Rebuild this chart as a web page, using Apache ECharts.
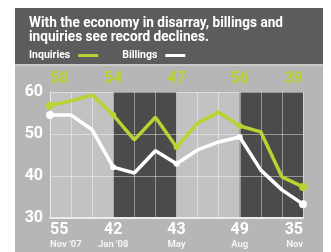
<!DOCTYPE html>
<html>
<head>
<meta charset="utf-8">
<script src="https://cdn.jsdelivr.net/npm/echarts@6/dist/echarts.min.js"></script>
<style>
html,body{margin:0;padding:0;background:#ffffff;}
#c{width:331px;height:252px;}
</style>
</head>
<body>
<div id="c"></div>
<script>
// ---- data ----
var categories = ["Nov '07","Dec '07","Jan '08","Feb '08","Mar '08","Apr '08","May '08","Jun '08","Jul '08","Aug '08","Sep '08","Oct '08","Nov '08"];
var inquiries = [56.8, 57.9, 59.3, 54.5, 48.6, 54.0, 46.9, 52.6, 55.2, 51.9, 50.5, 39.8, 37.4];
var billings  = [54.5, 54.5, 51.0, 42.1, 40.7, 46.0, 42.9, 46.2, 48.1, 49.3, 41.4, 36.7, 33.3];
var labelIdx = [0, 3, 6, 9, 12];
var monthLabels = ["Nov '07", "Jan '08", "May", "Aug", "Nov"];
var billingLabels = ["55", "42", "43", "49", "35"];
var inquiryLabels = ["58", "54", "47", "56", "39"];
var yTicks = [30, 40, 50, 60];
var darkBands = [[3, 6], [9, 12]];
var titleLines = ["With the economy in disarray, billings and", "inquiries see record declines."];
// ----------------

var NUM = "'Roboto','Liberation Sans',sans-serif";
var GREEN = '#b8d432';
var TITLE_FONT = "bold 14.5px Roboto, 'Liberation Sans', sans-serif";

// horizontal condensing of the title so its first line spans the reference width
var mctx = document.createElement('canvas').getContext('2d');
mctx.font = TITLE_FONT;
var titleScale = 254 / mctx.measureText(titleLines[0]).width;

function pos(i){ return labelIdx.indexOf(i); }

function bottomAxis(filter, align, show){
  return {
    type:'category', data:categories, boundaryGap:false, position:'bottom', gridIndex:0, z:2,
    axisLine:{show:show, lineStyle:{color:'#ececec', width:2}},
    axisTick:{show:false},
    splitLine:{show:show, interval:0, lineStyle:{color:'rgba(255,255,255,0.42)', width:1}},
    axisLabel:{
      show:true, interval:function(i){ return filter(i); }, align:align, margin:3,
      formatter:function(v, i){ var k = pos(i); return k < 0 ? '' : '{n|' + billingLabels[k] + '}\n{m|' + monthLabels[k] + '}'; },
      rich:{
        n:{fontFamily:NUM, fontWeight:'bold', fontSize:16, lineHeight:17, color:'#ffffff', align:align},
        m:{fontFamily:NUM, fontWeight:'bold', fontSize:9.5, lineHeight:13, color:'#f4f4f4', align:align}
      }
    }
  };
}
function topAxis(filter, align){
  return {
    type:'category', data:categories, boundaryGap:false, position:'top', gridIndex:0, z:2,
    axisLine:{show:false}, axisTick:{show:false}, splitLine:{show:false},
    axisLabel:{
      show:true, interval:function(i){ return filter(i); }, align:align, margin:5,
      formatter:function(v, i){ var k = pos(i); return k < 0 ? '' : inquiryLabels[k]; },
      fontFamily:NUM, fontWeight:'bold', fontSize:16, color:GREEN
    }
  };
}
var isFirst = function(i){ return i === labelIdx[0]; };
var isLast = function(i){ return i === labelIdx[labelIdx.length-1]; };
var isMid = function(i){ return pos(i) > 0 && pos(i) < labelIdx.length-1; };

function symSize(v, p){
  var i = p.dataIndex;
  if (i === 0 || i === categories.length-1) return 8;
  if (labelIdx.indexOf(i) >= 0) return 6;
  return 0;
}

var chart = echarts.init(document.getElementById('c'), null, {renderer:'canvas'});
chart.setOption({
  animation:false,
  backgroundColor:'#ffffff',
  graphic:[
    {type:'rect', z:-10, shape:{x:15, y:8, width:308, height:57}, style:{fill:'#5c5c5c'}},
    {type:'rect', z:-10, shape:{x:15, y:65, width:308, height:187}, style:{fill:'#b6b6b6'}},
    {type:'rect', z:-10, shape:{x:15, y:64, width:308, height:2}, style:{fill:'#c9c9c9'}},
    {type:'text', z:5, x:29, y:16, scaleX:titleScale,
      style:{text:titleLines.join('\n'), fill:'#ffffff', font:TITLE_FONT, lineHeight:14.5}}
  ],
  legend:{
    data:['Inquiries','Billings'], left:29, top:50, padding:0,
    align:'right', icon:'rect', itemWidth:20, itemHeight:3, itemGap:24,
    textStyle:{color:'#ffffff', fontFamily:NUM, fontWeight:'bold', fontSize:10.5, padding:[0,3,0,0]}
  },
  grid:{left:50, right:28, top:92, bottom:34, show:true, backgroundColor:'#c2c2c2', borderWidth:0, z:-1},
  xAxis:[
    bottomAxis(isMid, 'center', true),
    bottomAxis(isFirst, 'left', false),
    bottomAxis(isLast, 'right', false),
    topAxis(isMid, 'center'),
    topAxis(isFirst, 'left'),
    topAxis(isLast, 'right')
  ],
  yAxis:{
    type:'value', min:yTicks[0], max:yTicks[yTicks.length-1], interval:10, z:2,
    axisLine:{show:true, lineStyle:{color:'#ececec', width:1}},
    axisTick:{show:false},
    splitLine:{show:true, lineStyle:{color:'rgba(255,255,255,0.42)', width:1}},
    axisLabel:{margin:7, fontFamily:NUM, fontWeight:'bold', fontSize:16, color:'#ffffff'}
  },
  series:[
    {
      name:'bands', type:'line', data:[], z:0, silent:true,
      markArea:{silent:true, z:0, itemStyle:{color:'#4b4b4b', opacity:1},
        data: darkBands.map(function(b){ return [{xAxis:categories[b[0]]}, {xAxis:categories[b[1]]}]; })}
    },
    {
      name:'Inquiries', type:'line', data:inquiries, z:3,
      lineStyle:{color:GREEN, width:3.5}, itemStyle:{color:GREEN, borderWidth:0},
      symbol:'circle', symbolSize:symSize, showAllSymbol:true
    },
    {
      name:'Billings', type:'line', data:billings, z:3,
      lineStyle:{color:'#ffffff', width:3.5}, itemStyle:{color:'#ffffff', borderWidth:0},
      symbol:'circle', symbolSize:symSize, showAllSymbol:true
    }
  ]
});
</script>
</body>
</html>
